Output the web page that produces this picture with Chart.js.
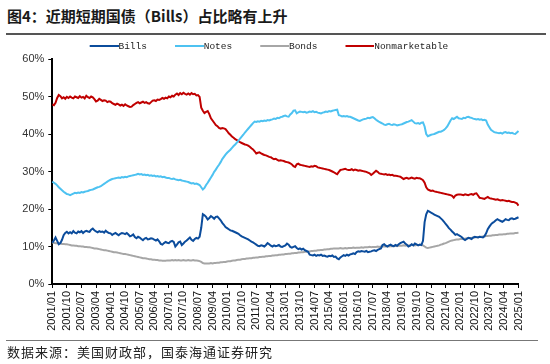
<!DOCTYPE html>
<html>
<head>
<meta charset="utf-8">
<script src="https://cdn.jsdelivr.net/npm/chart.js@4.4.1/dist/chart.umd.min.js"></script>
<style>
  body { margin: 0; width: 550px; height: 364px; background: #fff; position: relative; overflow: hidden; font-family: "Noto Sans CJK SC", sans-serif; }
  #title { position: absolute; left: 7px; top: 5px; font-size: 15px; font-weight: bold; color: #1a1a1a; white-space: nowrap; }
  #ruleTop { position: absolute; left: 6px; top: 33px; width: 540px; height: 2px; background: #555; }
  #ruleBottom { position: absolute; left: 6px; top: 340px; width: 532px; height: 1px; background: #777; }
  #source { position: absolute; left: 7px; top: 342px; font-size: 13px; letter-spacing: 1px; color: #222; white-space: nowrap; }
  #chartBox { position: absolute; left: 0; top: 0; }
</style>
</head>
<body>
<div id="title">图4：近期短期国债（Bills）占比略有上升</div>
<div id="ruleTop"></div>
<div id="chartBox"><canvas id="debtChart" width="550" height="364"></canvas></div>
<div id="ruleBottom"></div>
<div id="source">数据来源：美国财政部，国泰海通证券研究</div>
<script>
// monthly shares (%), 2001/01 .. 2025/01, one row per year
const bills = [
  11.0,11.6,12.4,11.5,10.6,10.9,11.8,13.0,13.6,13.9,13.5,13.8,
  13.5,14.1,13.7,13.5,14.0,13.8,14.1,13.6,14.0,14.2,14.0,13.9,
  14.5,14.8,14.3,14.0,13.8,14.1,13.9,14.0,13.7,14.2,13.8,13.6,
  13.5,13.1,13.4,13.6,13.3,13.0,13.4,13.6,13.5,13.3,13.6,13.2,
  12.7,12.9,13.2,12.5,12.2,12.6,12.4,12.0,11.7,12.1,12.3,11.9,
  12.0,12.2,12.1,11.8,11.6,11.9,11.4,10.7,10.5,10.9,11.2,11.0,
  10.9,11.3,11.5,11.2,10.0,10.5,11.1,11.3,10.4,10.8,11.3,11.6,
  12.0,12.4,11.8,11.5,12.0,12.3,12.1,12.6,15.0,18.6,18.3,17.9,
  17.2,17.6,18.1,17.8,17.4,17.9,18.0,17.5,17.0,16.3,15.8,15.2,
  14.9,14.6,14.3,14.2,14.0,13.8,13.6,13.4,13.0,12.7,12.5,12.3,
  12.1,11.9,11.6,11.3,11.1,10.8,10.5,10.2,10.1,10.3,10.2,10.0,
  10.4,10.9,10.6,10.2,10.0,10.3,10.1,10.2,10.4,10.0,9.9,10.1,
  10.3,10.8,10.5,9.9,9.7,9.9,10.1,9.6,9.3,9.5,9.2,9.4,
  9.0,8.8,8.6,7.8,7.7,7.6,7.8,7.5,7.7,7.6,7.8,7.5,
  7.6,7.4,7.3,7.5,7.4,7.6,7.2,7.3,6.8,6.6,7.1,7.4,
  7.7,7.5,7.8,7.6,7.9,8.0,8.2,8.0,8.5,8.7,8.6,8.8,
  8.7,8.6,8.8,8.5,8.6,8.7,8.9,9.0,8.8,9.1,9.3,9.5,
  10.4,10.6,10.2,10.0,10.3,10.5,10.2,10.1,10.4,10.2,10.6,10.9,
  11.1,11.3,10.8,10.5,10.0,10.2,10.6,10.3,10.8,10.6,10.3,10.5,
  10.4,11.5,16.5,18.6,19.5,19.3,19.0,18.8,18.5,18.3,18.1,17.9,
  17.5,17.1,16.6,16.0,15.5,14.9,14.5,14.0,13.6,13.1,13.3,13.0,
  12.8,12.5,12.0,11.7,12.0,12.3,12.2,12.0,12.4,12.6,12.5,12.4,
  12.6,12.5,12.4,12.8,13.5,14.6,15.3,15.9,16.3,16.6,17.0,17.3,
  17.0,16.8,16.6,16.9,17.3,17.1,17.0,17.4,17.5,17.3,17.4,17.6,
  17.8
];

const notes = [
  27.3,27.0,26.7,26.3,25.8,25.4,25.0,24.6,24.3,24.0,23.9,23.7,
  23.9,24.1,24.3,24.2,24.4,24.3,24.5,24.4,24.6,24.7,24.8,25.0,
  25.1,25.2,25.4,25.6,25.8,25.9,26.1,26.4,26.7,27.0,27.3,27.6,
  27.8,28.0,28.1,28.2,28.3,28.4,28.3,28.5,28.4,28.6,28.5,28.7,
  28.8,28.9,29.0,29.1,29.2,29.4,29.2,29.3,29.1,29.2,29.0,29.1,
  28.9,29.0,28.8,28.9,28.7,28.8,28.6,28.7,28.5,28.6,28.4,28.3,
  28.3,28.1,28.0,28.1,27.9,27.8,27.7,27.8,27.6,27.5,27.4,27.3,
  27.2,27.0,26.8,26.9,26.7,26.8,26.6,26.4,25.8,25.2,25.6,26.4,
  27.0,27.7,28.4,29.1,29.9,30.5,31.2,31.8,32.5,33.3,33.9,34.5,
  35.0,35.4,35.8,36.3,36.8,37.2,37.7,38.2,38.8,39.3,39.8,40.4,
  40.9,41.4,41.9,42.4,42.9,43.3,43.2,43.4,43.3,43.5,43.4,43.6,
  43.5,43.7,43.6,43.8,43.9,44.1,44.0,44.3,44.2,44.5,44.6,44.8,
  44.9,44.7,44.6,45.2,45.6,46.2,46.3,45.5,45.8,46.0,45.9,45.8,
  45.9,45.7,45.8,46.0,45.9,46.1,45.8,45.9,45.7,45.6,45.5,45.7,
  45.8,46.0,45.9,46.1,46.0,46.2,46.3,46.4,46.5,45.0,44.9,44.7,
  44.8,44.7,44.8,44.6,44.6,44.4,44.2,44.0,43.8,43.6,43.5,43.7,
  43.9,44.0,44.1,44.3,44.2,44.4,44.5,44.2,43.8,43.5,43.2,43.0,
  42.8,42.5,42.4,42.6,42.7,42.5,42.4,42.6,42.5,42.3,42.4,42.5,
  42.6,42.8,43.0,43.2,43.3,43.5,43.7,43.3,42.9,42.8,42.9,42.7,
  43.0,43.1,42.0,40.0,39.4,39.6,39.8,39.9,40.0,40.2,40.4,40.6,
  40.6,40.8,41.1,41.5,42.0,42.8,43.6,44.2,44.0,44.3,44.6,44.2,
  44.1,44.0,44.3,44.2,44.5,44.6,44.4,44.3,44.1,44.0,43.9,44.0,
  43.8,43.9,43.7,43.8,43.6,42.5,41.8,41.1,40.8,40.5,40.4,40.3,
  40.2,40.3,40.1,40.4,40.5,40.3,40.4,40.2,40.3,40.1,40.0,40.4,
  40.8
];

const bonds = [
  11.0,11.0,10.9,10.9,10.8,10.8,10.7,10.7,10.6,10.6,10.5,10.4,
  10.3,10.3,10.2,10.2,10.1,10.1,10.0,10.0,9.9,9.9,9.8,9.8,
  9.7,9.6,9.5,9.5,9.4,9.3,9.2,9.1,9.0,9.0,8.9,8.8,
  8.7,8.6,8.5,8.5,8.4,8.3,8.2,8.1,8.0,8.0,7.9,7.8,
  7.7,7.6,7.5,7.4,7.3,7.2,7.1,7.0,6.9,6.9,6.8,6.7,
  6.6,6.6,6.5,6.5,6.4,6.4,6.3,6.3,6.2,6.2,6.2,6.3,
  6.3,6.3,6.4,6.3,6.4,6.3,6.4,6.3,6.3,6.4,6.3,6.3,
  6.4,6.3,6.3,6.4,6.3,6.3,6.2,6.1,5.9,5.6,5.5,5.5,
  5.5,5.5,5.6,5.5,5.6,5.6,5.7,5.7,5.8,5.8,5.9,5.9,
  6.0,6.1,6.1,6.2,6.3,6.3,6.4,6.5,6.5,6.6,6.7,6.7,
  6.8,6.8,6.9,6.9,7.0,7.0,7.1,7.1,7.2,7.2,7.3,7.3,
  7.4,7.4,7.5,7.5,7.6,7.6,7.7,7.7,7.8,7.8,7.9,7.9,
  8.0,8.0,8.1,8.1,8.2,8.2,8.3,8.3,8.4,8.4,8.5,8.5,
  8.6,8.6,8.7,8.7,8.8,8.8,8.9,8.9,9.0,9.0,9.1,9.1,
  9.2,9.2,9.3,9.3,9.4,9.4,9.5,9.5,9.5,9.5,9.6,9.5,
  9.5,9.6,9.5,9.6,9.6,9.6,9.7,9.6,9.7,9.7,9.7,9.8,
  9.7,9.8,9.8,9.8,9.9,9.8,9.9,9.9,9.9,10.0,9.9,10.0,
  10.0,10.0,10.0,10.1,10.0,10.1,10.1,10.1,10.2,10.1,10.2,10.2,
  10.2,10.3,10.2,10.3,10.3,10.3,10.4,10.4,10.3,10.4,10.4,10.4,
  10.4,10.3,10.0,9.7,9.6,9.7,9.8,9.9,10.0,10.1,10.2,10.3,
  10.5,10.6,10.8,10.9,11.1,11.3,11.5,11.6,11.7,11.8,11.9,11.9,
  12.0,12.0,12.1,12.1,12.2,12.2,12.3,12.3,12.4,12.4,12.5,12.5,
  12.6,12.6,12.7,12.7,12.8,12.8,12.9,12.9,13.0,13.0,13.1,13.1,
  13.2,13.2,13.2,13.3,13.3,13.4,13.4,13.5,13.5,13.5,13.6,13.6,
  13.7
];

const nonmarketable = [
  47.9,47.7,48.3,49.6,50.4,50.1,49.5,49.8,49.4,49.9,49.6,50.0,
  49.7,49.5,50.0,49.8,49.6,50.1,49.7,49.9,49.5,50.2,49.8,49.6,
  50.0,49.8,49.3,48.7,48.9,49.4,49.1,48.8,49.0,48.9,48.5,48.7,
  48.6,48.2,48.0,47.8,48.1,47.9,47.6,47.8,47.5,47.9,47.6,47.4,
  47.2,47.3,47.7,48.0,48.3,48.5,48.2,48.4,48.6,48.3,48.5,48.2,
  48.1,48.5,48.9,49.0,48.8,49.2,49.1,49.3,49.6,49.4,49.7,49.5,
  50.0,49.8,50.2,50.0,50.5,50.8,50.4,50.9,50.6,51.0,50.7,50.5,
  50.8,50.5,50.9,50.6,50.7,50.3,50.4,49.9,47.0,46.2,45.6,45.9,
  46.1,45.3,44.2,43.6,43.0,42.4,42.1,41.6,41.4,41.6,41.5,41.3,
  40.8,40.2,39.8,39.3,39.0,38.6,38.4,38.1,37.8,37.6,37.4,37.2,
  37.1,36.9,36.6,36.2,35.9,35.4,34.8,35.0,35.1,34.8,34.6,34.4,
  34.3,34.1,33.9,33.8,33.5,33.3,33.4,33.1,32.9,33.0,32.9,32.8,
  32.6,32.5,32.4,32.2,31.9,31.4,31.2,31.9,32.1,31.8,31.7,31.6,
  31.5,31.4,31.3,31.2,31.4,31.3,31.5,31.4,31.1,31.0,30.9,30.8,
  30.7,30.6,30.5,30.4,30.2,30.0,29.8,29.5,29.3,29.9,30.4,30.5,
  30.6,30.7,30.5,30.4,30.4,30.6,30.3,30.5,30.4,30.2,30.3,30.2,
  30.1,30.0,29.9,29.7,29.5,29.1,29.4,29.8,30.2,29.9,29.5,29.4,
  29.3,29.2,29.3,29.1,29.2,29.0,29.1,28.9,28.9,28.8,28.7,28.6,
  28.3,28.0,28.2,28.3,28.1,28.2,28.4,28.2,28.1,28.3,28.2,28.2,
  28.0,27.7,27.0,25.8,25.2,25.0,24.8,24.9,24.7,24.6,24.5,24.4,
  24.3,24.2,24.1,24.0,23.9,23.8,23.7,23.5,23.0,23.6,23.8,23.9,
  23.9,23.8,23.7,23.9,23.8,23.7,23.9,24.0,23.8,24.1,24.2,23.6,
  23.0,22.9,22.8,22.7,23.0,23.2,22.9,22.8,22.7,22.6,22.5,22.6,
  22.4,22.3,22.4,22.3,22.2,22.1,22.2,22.0,21.9,21.9,21.7,21.5,
  20.9
];

// month labels 2001/01 .. 2025/01, a tick every 9 months
const months = [];
for (let y = 2001; y <= 2025; y++) {
  for (let m = 1; m <= 12; m++) {
    if (y === 2025 && m > 1) break;
    months.push(y + "/" + String(m).padStart(2, "0"));
  }
}
const tickEvery = 9;

// legend swatch: a short line that runs right up to the label text
function swatch(color) {
  const c = document.createElement("canvas");
  c.width = 34;
  c.height = 4;
  const g = c.getContext("2d");
  g.fillStyle = color;
  g.fillRect(5, 1, 29, 2);
  return c;
}

document.addEventListener("DOMContentLoaded", function () {
  const ctx = document.getElementById("debtChart").getContext("2d");

  const line = (label, data, color) => ({
    label: label,
    data: data,
    borderColor: color,
    backgroundColor: color,
    borderWidth: 2,
    pointRadius: 0,
    pointStyle: swatch(color),
    tension: 0
  });

  new Chart(ctx, {
    type: "line",
    data: {
      labels: months,
      datasets: [
        line("Bills", bills, "#0b4c9c"),
        line("Notes", notes, "#4dc2f1"),
        line("Bonds", bonds, "#a6a6a6"),
        line("Nonmarketable", nonmarketable, "#c00000")
      ]
    },
    options: {
      responsive: false,
      animation: false,
      layout: { padding: { left: 19.5, right: 31.5, top: 11.5, bottom: 30 } },
      scales: {
        x: {
          offset: false,
          border: { display: true, color: "#000", width: 2 },
          grid: { display: true, drawOnChartArea: false, drawTicks: true, tickLength: 4, color: "#000" },
          ticks: {
            autoSkip: false,
            minRotation: 90,
            maxRotation: 90,
            padding: 3,
            color: "#111",
            font: { family: "Liberation Sans", size: 11 },
            callback: function (val, i) {
              return i % tickEvery === 0 ? months[i] : null;
            }
          },
          afterFit: function (scale) { scale.height = 50; }
        },
        y: {
          min: 0,
          max: 60,
          border: { display: true, color: "#000", width: 2 },
          grid: { display: true, drawOnChartArea: false, drawTicks: true, tickLength: 4, color: "#000" },
          ticks: {
            stepSize: 10,
            padding: 4,
            color: "#333",
            font: { family: "Liberation Sans", size: 11 },
            callback: v => v + "%"
          },
          afterFit: function (scale) { scale.width = 32.8; }
        }
      },
      plugins: {
        tooltip: { enabled: false },
        legend: {
          position: "top",
          labels: {
            usePointStyle: true,
            pointStyleWidth: 24,
            padding: 28,
            color: "#222",
            font: { family: "Liberation Mono", size: 9.5 }
          }
        }
      }
    },
    plugins: [{
      id: "legendNudge",
      afterLayout: function (chart) { chart.legend.top += 1.75; }
    }]
  });
});
</script>
</body>
</html>
